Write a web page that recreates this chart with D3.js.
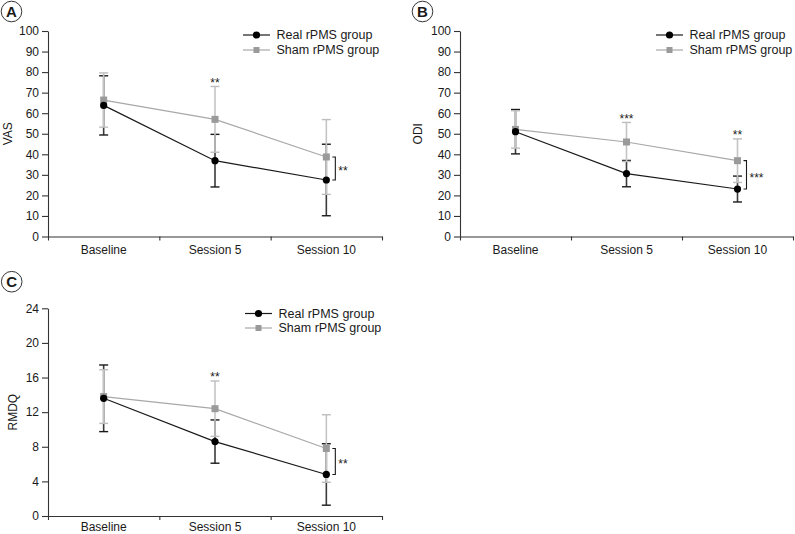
<!DOCTYPE html>
<html>
<head>
<meta charset="utf-8">
<script src="https://cdn.jsdelivr.net/npm/d3@7/dist/d3.min.js"></script>
<style>
  html, body { margin: 0; padding: 0; background: #fff; }
  svg { display: block; }
  text { font-family: Arial, "Liberation Sans", sans-serif; fill: #1a1a1a; }
</style>
</head>
<body>
<svg id="chart" width="795" height="534"></svg>
<script>
// ---------- data ----------
const categories = ["Baseline", "Session 5", "Session 10"];
const seriesNames = ["Real rPMS group", "Sham rPMS group"];

const vasReal   = [63.8, 36.9, 27.5];
const vasRealSD = [14.4, 12.8, 17.4];
const vasSham   = [66.4, 57.0, 38.7];
const vasShamSD = [13.2, 16.0, 18.2];

const odiReal   = [51.0, 30.6, 23.1];
const odiRealSD = [10.8, 6.4, 6.3];
const odiSham   = [52.1, 46.0, 36.9];
const odiShamSD = [9.1, 9.5, 10.6];

const rmdqReal   = [13.6, 8.6, 4.8];
const rmdqRealSD = [3.85, 2.5, 3.55];
const rmdqSham   = [13.8, 12.4, 7.8];
const rmdqShamSD = [3.1, 3.2, 3.9];

const vasTicks  = [0, 10, 20, 30, 40, 50, 60, 70, 80, 90, 100];
const odiTicks  = [0, 10, 20, 30, 40, 50, 60, 70, 80, 90, 100];
const rmdqTicks = [0, 4, 8, 12, 16, 20, 24];

// significance marks: index of category, label
const vasTopStars  = [{i: 1, label: "**"}];
const vasBracket   = [{i: 2, label: "**"}];
const odiTopStars  = [{i: 1, label: "***"}, {i: 2, label: "**"}];
const odiBracket   = [{i: 2, label: "***"}];
const rmdqTopStars = [{i: 1, label: "**"}];
const rmdqBracket  = [{i: 2, label: "**"}];

// ---------- style ----------
const REAL_LINE = "#1a1a1a", SHAM_LINE = "#a8a8a8";
const REAL_STEM = "#3a3a3a", SHAM_STEM = "#c4c4c4";
const REAL_CAP  = "#1a1a1a", SHAM_CAP  = "#bdbdbd";
const REAL_MARK = "#000000", SHAM_MARK = "#9a9a9a";

const svg = d3.select("#chart");

function panel(cfg) {
  const g = svg.append("g");
  const x = d3.scaleBand().domain(categories).range([cfg.x0, cfg.x1]).paddingInner(0).paddingOuter(0);
  const xb = d3.scaleLinear().domain([0, categories.length]).range([cfg.x0, cfg.x1]);
  const y = d3.scaleLinear().domain([0, cfg.yMax]).range([cfg.yBottom, cfg.yTop]);
  const cx = c => x(c) + x.bandwidth() / 2;

  // y axis
  const ya = g.append("g").attr("transform", `translate(${cfg.x0},0)`)
    .call(d3.axisLeft(y).tickValues(cfg.ticks).tickSize(6).tickPadding(3).tickSizeOuter(0));
  ya.select(".domain").attr("stroke", "#333").attr("stroke-width", 1.1);
  ya.selectAll(".tick line").attr("stroke", "#333").attr("stroke-width", 1.1);
  ya.selectAll(".tick text").attr("font-size", 12).attr("fill", "#1a1a1a")
    .attr("font-family", 'Arial, "Liberation Sans", sans-serif');

  // x axis: boundary ticks + centred labels
  const xa = g.append("g").attr("transform", `translate(0,${cfg.yBottom})`)
    .call(d3.axisBottom(xb).tickValues(d3.range(categories.length + 1)).tickSize(4).tickFormat("").tickSizeOuter(0));
  xa.select(".domain").attr("stroke", "#333").attr("stroke-width", 1.1);
  xa.selectAll(".tick line").attr("stroke", "#333").attr("stroke-width", 1.1);
  g.selectAll(".xlab").data(categories).enter().append("text")
    .attr("x", d => cx(d)).attr("y", cfg.yBottom + cfg.xlabOff)
    .attr("text-anchor", "middle").attr("font-size", 12).text(d => d);

  // y label
  g.append("text")
    .attr("transform", `translate(${cfg.ylabX},${(cfg.yTop + cfg.yBottom) / 2}) rotate(-90)`)
    .attr("text-anchor", "middle").attr("dominant-baseline", "central")
    .attr("font-size", 12).text(cfg.ylabel);

  // panel letter
  g.append("circle").attr("cx", cfg.lx).attr("cy", cfg.ly).attr("r", 10.3)
    .attr("fill", "none").attr("stroke", "#333").attr("stroke-width", 1);
  g.append("text").attr("x", cfg.lx).attr("y", cfg.ly + 5.3).attr("text-anchor", "middle")
    .attr("font-size", 15).attr("font-weight", "bold").text(cfg.letter);

  const real = categories.map((c, i) => ({c, m: cfg.real[i], sd: cfg.realSD[i]}));
  const sham = categories.map((c, i) => ({c, m: cfg.sham[i], sd: cfg.shamSD[i]}));

  function errorBars(data, stem, cap) {
    const eg = g.append("g");
    eg.selectAll("line.stem").data(data).enter().append("line")
      .attr("x1", d => cx(d.c)).attr("x2", d => cx(d.c))
      .attr("y1", d => y(d.m - d.sd)).attr("y2", d => y(d.m + d.sd))
      .attr("stroke", stem).attr("stroke-width", 1.6);
    [1, -1].forEach(s => {
      eg.selectAll(null).data(data).enter().append("line")
        .attr("x1", d => cx(d.c) - 4.5).attr("x2", d => cx(d.c) + 4.5)
        .attr("y1", d => y(d.m + s * d.sd)).attr("y2", d => y(d.m + s * d.sd))
        .attr("stroke", cap).attr("stroke-width", 1.4);
    });
  }
  errorBars(real, REAL_STEM, REAL_CAP);
  errorBars(sham, SHAM_STEM, SHAM_CAP);

  const line = d3.line().x(d => cx(d.c)).y(d => y(d.m));
  g.append("path").datum(sham).attr("d", line).attr("fill", "none")
    .attr("stroke", SHAM_LINE).attr("stroke-width", 1.2);
  g.append("path").datum(real).attr("d", line).attr("fill", "none")
    .attr("stroke", REAL_LINE).attr("stroke-width", 1.2);

  g.selectAll(null).data(sham).enter().append("rect")
    .attr("x", d => cx(d.c) - 3.5).attr("y", d => y(d.m) - 3.5)
    .attr("width", 7).attr("height", 7).attr("fill", SHAM_MARK);
  g.selectAll(null).data(real).enter().append("circle")
    .attr("cx", d => cx(d.c)).attr("cy", d => y(d.m)).attr("r", 3.6)
    .attr("fill", REAL_MARK);

  // stars above sham error bar
  cfg.topStars.forEach(s => {
    const c = categories[s.i];
    const top = y(cfg.sham[s.i] + cfg.shamSD[s.i]);
    g.append("text").attr("x", cx(c)).attr("y", top - 6.5 + 7)
      .attr("text-anchor", "middle").attr("font-size", 12).text(s.label);
  });
  // brackets between the groups
  cfg.bracket.forEach(s => {
    const c = categories[s.i];
    const y1 = y(cfg.sham[s.i]), y2 = y(cfg.real[s.i]);
    const bx = cx(c) + 6, bx2 = cx(c) + 9;
    g.append("path").attr("d", `M${bx},${y1}H${bx2}V${y2}H${bx}`)
      .attr("fill", "none").attr("stroke", "#1a1a1a").attr("stroke-width", 1.1);
    g.append("text").attr("x", bx2 + 3).attr("y", (y1 + y2) / 2 + 7)
      .attr("font-size", 12).text(s.label);
  });

  // legend
  const lg = g.append("g");
  [0, 1].forEach(k => {
    const ly = cfg.legY + k * cfg.legDy;
    lg.append("line").attr("x1", cfg.legX).attr("x2", cfg.legX + 27)
      .attr("y1", ly).attr("y2", ly)
      .attr("stroke", k === 0 ? REAL_LINE : SHAM_LINE).attr("stroke-width", 1.2);
    if (k === 0) {
      lg.append("circle").attr("cx", cfg.legX + 13.5).attr("cy", ly).attr("r", 3.6).attr("fill", REAL_MARK);
    } else {
      lg.append("rect").attr("x", cfg.legX + 13.5 - 3).attr("y", ly - 3)
        .attr("width", 6).attr("height", 6).attr("fill", SHAM_MARK);
    }
    lg.append("text").attr("x", cfg.legX + 33.5).attr("y", ly)
      .attr("dominant-baseline", "central").attr("font-size", 12.5).text(seriesNames[k]);
  });
}

panel({x0: 48, x1: 382, yTop: 31, yBottom: 236.5, yMax: 100, ticks: vasTicks,
  real: vasReal, realSD: vasRealSD, sham: vasSham, shamSD: vasShamSD,
  ylabel: "VAS", ylabX: 7.5, letter: "A", lx: 11.5, ly: 11.5, xlabOff: 17.5,
  topStars: vasTopStars, bracket: vasBracket, legX: 243, legY: 35, legDy: 15});

panel({x0: 460, x1: 793, yTop: 31, yBottom: 236.5, yMax: 100, ticks: odiTicks,
  real: odiReal, realSD: odiRealSD, sham: odiSham, shamSD: odiShamSD,
  ylabel: "ODI", ylabX: 417.5, letter: "B", lx: 422.5, ly: 11.5, xlabOff: 17.5,
  topStars: odiTopStars, bracket: odiBracket, legX: 656, legY: 35, legDy: 15});

panel({x0: 48, x1: 382, yTop: 308.3, yBottom: 516, yMax: 24, ticks: rmdqTicks,
  real: rmdqReal, realSD: rmdqRealSD, sham: rmdqSham, shamSD: rmdqShamSD,
  ylabel: "RMDQ", ylabX: 12.8, letter: "C", lx: 11.7, ly: 281.7, xlabOff: 15,
  topStars: rmdqTopStars, bracket: rmdqBracket, legX: 245, legY: 313.5, legDy: 14.5});
</script>
</body>
</html>
